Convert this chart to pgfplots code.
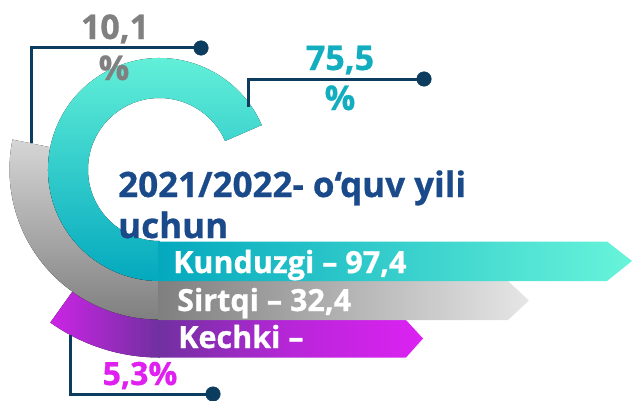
\documentclass[border=0pt]{standalone}
\usepackage{fontspec}
\setmainfont{Open Sans}[BoldFont={Open Sans Bold}, BoldFeatures={FakeBold=0.8}]
\usepackage{pgfplots}
\pgfplotsset{compat=1.18}
\definecolor{navy}{HTML}{0D3D5E}
\definecolor{tealD}{HTML}{04A9BE}
\definecolor{tealL}{HTML}{68F4DA}
\definecolor{greyD}{HTML}{7F7F7F}
\definecolor{greyL}{HTML}{E6E6E6}
\definecolor{greyT}{HTML}{D6D6D6}
\definecolor{purD}{HTML}{7030A0}
\definecolor{purM}{HTML}{B726D8}
\definecolor{magL}{HTML}{DC22F2}
\definecolor{titleblue}{HTML}{1B4A8A}
\definecolor{pctteal}{HTML}{12AEC0}
\definecolor{pctgrey}{HTML}{808080}
\definecolor{pctmag}{HTML}{E020F0}

\newcommand{\fs}[1]{\fontsize{#1bp}{#1bp}\selectfont\bfseries}

\begin{document}
\begin{tikzpicture}
\begin{axis}[width=632bp, height=401bp, scale only axis,
  xmin=0, xmax=632, ymin=0, ymax=401, y dir=reverse,
  hide axis, clip=false]

% purple ring + bar (Kechki)
\fill[left color=magL!85!purD, right color=purD]
  (axis cs:159.5,169.5) ++(234.5:188bp) arc[start angle=234.5, end angle=270, radius=188bp]
  -- ++(0,38bp) arc[start angle=270, end angle=234.5, radius=150bp] -- cycle;
\addplot[draw=none, left color=purD, right color=magL, middle color=purM]
  coordinates {(158,320) (406,320) (423,338.5) (406,357.5) (158,357.5)} -- cycle;

% grey ring + bar (Sirtqi)
\fill[top color=greyT, bottom color=greyD]
  (axis cs:159.5,169.5) ++(168.5:150bp) arc[start angle=168.5, end angle=270, radius=150bp]
  -- ++(0,38.5bp) arc[start angle=270, end angle=168.5, radius=111.5bp] -- cycle;
\addplot[draw=none, left color=greyD, right color=greyL]
  coordinates {(158,281) (508,281) (529,300.5) (508,320) (158,320)} -- cycle;

% teal ring + bar (Kunduzgi)
\fill[top color=tealL, bottom color=tealD]
  (axis cs:159.5,169.5) ++(23.5:111.5bp) arc[start angle=23.5, end angle=270, radius=111.5bp]
  -- ++(0,40bp) arc[start angle=270, end angle=23.5, radius=71.5bp] -- cycle;
\addplot[draw=none, left color=tealD, right color=tealL]
  coordinates {(158,241.5) (607,241.5) (632,261) (607,281) (158,281)} -- cycle;

% leader lines
\addplot[navy, line width=3bp] coordinates {(31,143) (31,48) (201,48)};
\addplot[navy, line width=3bp] coordinates {(248,107) (248,79) (424,79)};
\addplot[navy, line width=3bp] coordinates {(70.5,335) (70.5,394) (213,394)};
\addplot[only marks, mark=*, mark size=7.3bp, navy]
  coordinates {(201,48) (424,79) (213,394)};

% percentages
\node[anchor=base, text=pctgrey] at (axis cs:115,39) {\fs{34}10,1};
\node[anchor=base, text=pctgrey] at (axis cs:114,80) {\fs{34}\%};
\node[anchor=base, text=pctteal] at (axis cs:340,70) {\fs{34}75,5};
\node[anchor=base, text=pctteal] at (axis cs:340,110) {\fs{34}\%};
\node[anchor=base, text=pctmag] at (axis cs:140,385) {\fs{32}5,3\%};

% title
\node[anchor=base west, text=titleblue, inner sep=0pt] at (axis cs:118,197) {\fs{35}2021/2022- o‘quv yili};
\node[anchor=base west, text=titleblue, inner sep=0pt] at (axis cs:118,238) {\fs{35}uchun};

% bar labels
\node[anchor=base west, text=white, inner sep=0pt] at (axis cs:173,273) {\fs{30.5}Kunduzgi – 97,4};
\node[anchor=base west, text=white, inner sep=0pt] at (axis cs:177,311) {\fs{30.5}Sirtqi – 32,4};
\node[anchor=base west, text=white, inner sep=0pt] at (axis cs:178,348) {\fs{30.5}Kechki –};
\end{axis}
\pgfresetboundingbox
\path (current axis.south west) rectangle (current axis.north east);
\end{tikzpicture}
\end{document}
